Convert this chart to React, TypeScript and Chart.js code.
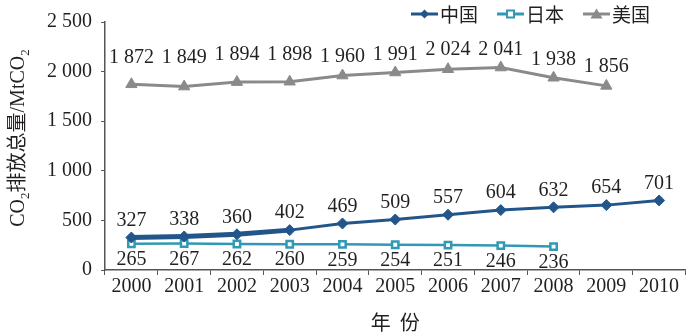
import React, { useEffect, useRef } from "react";
import { Chart, registerables } from "chart.js";

Chart.register(...registerables);

// 年份
const years = ["2000", "2001", "2002", "2003", "2004", "2005", "2006", "2007", "2008", "2009", "2010"];

// CO2 排放总量 (MtCO2)
const china = [327, 338, 360, 402, 469, 509, 557, 604, 632, 654, 701];
const japan = [265, 267, 262, 260, 259, 254, 251, 246, 236, null, null];
const usa = [1872, 1849, 1894, 1898, 1960, 1991, 2024, 2041, 1938, 1856, null];

const yTicks = [0, 500, 1000, 1500, 2000, 2500];

const seriesNames = ["中国", "日本", "美国"];

const COLOR_CN = "#22568b";
const COLOR_JP = "#3199b6";
const COLOR_US = "#8a8a8a";
const TEXT = "#231f20";
const SERIF = '"Liberation Serif", "Noto Sans CJK SC", serif';

// label lift above the US points, in px
const usLabelLift = [27, 29, 27, 27, 19, 18, 19, 18, 18, 19];

const fmt = (n: number) => String(n).replace(/\B(?=(\d{3})+(?!\d))/g, " ");

function drawMarker(ctx: CanvasRenderingContext2D, kind: string, x: number, y: number, r: number, color: string) {
  ctx.save();
  ctx.fillStyle = color;
  ctx.strokeStyle = color;
  ctx.beginPath();
  if (kind === "diamond") {
    ctx.moveTo(x, y - r);
    ctx.lineTo(x + r, y);
    ctx.lineTo(x, y + r);
    ctx.lineTo(x - r, y);
    ctx.closePath();
    ctx.fill();
  } else if (kind === "square") {
    ctx.fillStyle = "#fff";
    ctx.lineWidth = 2;
    ctx.rect(x - r, y - r, 2 * r, 2 * r);
    ctx.fill();
    ctx.stroke();
  } else {
    ctx.moveTo(x, y - r);
    ctx.lineTo(x + r * 1.1, y + r * 0.8);
    ctx.lineTo(x - r * 1.1, y + r * 0.8);
    ctx.closePath();
    ctx.fill();
  }
  ctx.restore();
}

const decorPlugin = {
  id: "decor",
  afterDatasetsDraw(chart: any) {
    const ctx: CanvasRenderingContext2D = chart.ctx;
    ctx.save();
    ctx.font = `20px ${SERIF}`;
    ctx.fillStyle = TEXT;
    ctx.textAlign = "center";
    ctx.textBaseline = "middle";
    chart.data.datasets.forEach((ds: any, di: number) => {
      const meta = chart.getDatasetMeta(di);
      ds.data.forEach((v: number | null, i: number) => {
        if (v == null) return;
        const p = meta.data[i];
        let y = p.y;
        if (di === 0) y -= 17;
        else if (di === 1) y += 16;
        else y -= usLabelLift[i] ?? 20;
        ctx.fillText(fmt(v), p.x, y);
      });
    });

    // legend
    const items = [
      { x: 411, kind: "diamond", color: COLOR_CN, r: 4.5 },
      { x: 497, kind: "square", color: COLOR_JP, r: 3.5 },
      { x: 583, kind: "triangle", color: COLOR_US, r: 5.5 },
    ];
    const ly = 14;
    items.forEach((it, i) => {
      ctx.strokeStyle = it.color;
      ctx.lineWidth = 3;
      ctx.beginPath();
      ctx.moveTo(it.x, ly);
      ctx.lineTo(it.x + 27, ly);
      ctx.stroke();
      drawMarker(ctx, it.kind, it.x + 13.5, ly, it.r, it.color);
      ctx.fillStyle = TEXT;
      ctx.textAlign = "left";
      ctx.font = `19px "Noto Sans CJK SC", ${SERIF}`;
      ctx.fillText(seriesNames[i], it.x + 29, ly + 1);
    });

    // x title
    ctx.textAlign = "center";
    ctx.font = `20px "Noto Sans CJK SC", ${SERIF}`;
    ctx.fillText("年  份", (chart.chartArea.left + chart.chartArea.right) / 2, 322);

    // y title with subscripts
    const parts = [
      { t: "CO", sub: false },
      { t: "2", sub: true },
      { t: "排放总量/MtCO", sub: false },
      { t: "2", sub: true },
    ];
    const mainFont = `20px ${SERIF}`;
    const subFont = `13px ${SERIF}`;
    let total = 0;
    parts.forEach((p) => {
      ctx.font = p.sub ? subFont : mainFont;
      total += ctx.measureText(p.t).width;
    });
    ctx.translate(19, 138);
    ctx.rotate(-Math.PI / 2);
    ctx.textAlign = "left";
    ctx.textBaseline = "middle";
    let cx = -total / 2;
    parts.forEach((p) => {
      ctx.font = p.sub ? subFont : mainFont;
      ctx.fillText(p.t, cx, p.sub ? 7 : 0);
      cx += ctx.measureText(p.t).width;
    });
    ctx.restore();
  },
};

export default function App() {
  const ref = useRef<HTMLCanvasElement | null>(null);

  useEffect(() => {
    if (!ref.current) return;
    const chart = new Chart(ref.current, {
      type: "line",
      data: {
        labels: years,
        datasets: [
          {
            label: seriesNames[0],
            data: china,
            borderColor: COLOR_CN,
            backgroundColor: COLOR_CN,
            borderWidth: 3,
            pointStyle: "rectRot",
            pointRadius: 5.5,
            pointBorderWidth: 1,
            segment: {
              borderWidth: (c: any) => (c.p0DataIndex < 3 ? 5 : 3),
            },
          },
          {
            label: seriesNames[1],
            data: japan,
            borderColor: COLOR_JP,
            backgroundColor: "#ffffff",
            borderWidth: 2.5,
            pointStyle: "rect",
            pointRadius: 4.5,
            pointBorderWidth: 2.5,
          },
          {
            label: seriesNames[2],
            data: usa,
            borderColor: COLOR_US,
            backgroundColor: COLOR_US,
            borderWidth: 3,
            pointStyle: "triangle",
            pointRadius: 6.5,
            pointBorderWidth: 1,
          },
        ],
      },
      options: {
        animation: false,
        responsive: false,
        maintainAspectRatio: false,
        layout: { padding: { top: 22, right: 0, left: 0, bottom: 0 } },
        plugins: {
          legend: { display: false },
          tooltip: { enabled: false },
        },
        scales: {
          x: {
            offset: true,
            grid: {
              offset: true,
              drawOnChartArea: false,
              drawTicks: true,
              tickLength: 5,
              color: "#555",
            },
            border: { display: true, color: "#555", width: 1.5 },
            ticks: {
              color: TEXT,
              font: { family: SERIF, size: 20 },
              padding: 0,
              maxRotation: 0,
              autoSkip: false,
            },
            afterFit: (s: any) => {
              s.height = 65;
            },
          },
          y: {
            min: 0,
            max: 2500,
            afterBuildTicks: (s: any) => {
              s.ticks = yTicks.map((v) => ({ value: v }));
            },
            grid: {
              drawOnChartArea: false,
              drawTicks: true,
              tickLength: 4,
              color: "#555",
            },
            border: { display: true, color: "#555", width: 1.5 },
            ticks: {
              color: TEXT,
              font: { family: SERIF, size: 20 },
              padding: 9,
              callback: (v: any) => fmt(Number(v)),
            },
            afterFit: (s: any) => {
              s.width = 105;
            },
          },
        },
      },
      plugins: [decorPlugin],
    });
    return () => chart.destroy();
  }, []);

  return (
    <div style={{ position: "fixed", left: 0, top: 0, width: 693, height: 335, background: "#fff" }}>
      <canvas ref={ref} width={693} height={335} style={{ width: 693, height: 335, display: "block" }} />
    </div>
  );
}
